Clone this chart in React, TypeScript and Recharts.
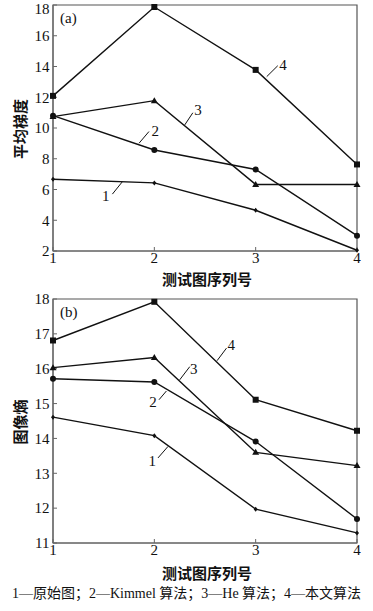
import React from 'react';
import {
  LineChart,
  Line,
  XAxis,
  YAxis,
  ReferenceArea,
  ReferenceLine,
  ReferenceDot,
  Label,
} from 'recharts';

// test image index on the x axis
const testImages = [1, 2, 3, 4];
const methodNames = ['原始图', 'Kimmel 算法', 'He 算法', '本文算法'];

// (a) average gradient
const gradientOriginal = [6.67, 6.43, 4.65, 2.05];
const gradientKimmel = [10.8, 8.57, 7.3, 3.0];
const gradientHe = [10.74, 11.78, 6.33, 6.33];
const gradientOurs = [12.09, 17.87, 13.78, 7.63];
const gradientTicks = [2, 4, 6, 8, 10, 12, 14, 16, 18];

// (b) image entropy
const entropyOriginal = [14.61, 14.08, 11.97, 11.29];
const entropyKimmel = [15.71, 15.62, 13.91, 11.69];
const entropyHe = [16.03, 16.32, 13.6, 13.22];
const entropyOurs = [16.81, 17.92, 15.11, 14.22];
const entropyTicks = [11, 12, 13, 14, 15, 16, 17, 18];

type Pt = { x: number; y: number };
type Callout = { text: string; at: Pt; from: Pt; to: Pt };

// numbered callouts, in data units
const gradientCallouts: Callout[] = [
  { text: '1', at: { x: 1.52, y: 5.57 }, from: { x: 1.586, y: 5.7 }, to: { x: 1.685, y: 6.51 } },
  { text: '2', at: { x: 2.01, y: 9.81 }, from: { x: 1.849, y: 9.01 }, to: { x: 1.947, y: 9.77 } },
  { text: '3', at: { x: 2.43, y: 11.18 }, from: { x: 2.3, y: 10.2 }, to: { x: 2.38, y: 10.99 } },
  { text: '4', at: { x: 3.27, y: 14.12 }, from: { x: 3.109, y: 13.34 }, to: { x: 3.218, y: 14.05 } },
];

const entropyCallouts: Callout[] = [
  { text: '1', at: { x: 1.98, y: 13.37 }, from: { x: 2.036, y: 13.44 }, to: { x: 2.135, y: 13.77 } },
  { text: '2', at: { x: 1.987, y: 15.06 }, from: { x: 2.046, y: 15.11 }, to: { x: 2.119, y: 15.36 } },
  { text: '3', at: { x: 2.39, y: 15.99 }, from: { x: 2.25, y: 15.68 }, to: { x: 2.35, y: 16.06 } },
  { text: '4', at: { x: 2.76, y: 16.68 }, from: { x: 2.619, y: 16.23 }, to: { x: 2.712, y: 16.59 } },
];

const serif = '"Liberation Serif", "Noto Sans CJK SC", serif';
const cjkBold = '"Noto Sans CJK SC", sans-serif';
const ink = '#111';

type MarkerKind = 'dot' | 'circle' | 'triangle' | 'square';
const markers: MarkerKind[] = ['dot', 'circle', 'triangle', 'square'];

const renderMarker = (kind: MarkerKind) => (props: any) => {
  const { cx, cy, index } = props;
  const key = `${kind}-${index}`;
  if (cx == null || cy == null) return <g key={key} />;
  if (kind === 'square')
    return <rect key={key} x={cx - 3} y={cy - 3} width={6} height={6} fill={ink} />;
  if (kind === 'circle') return <circle key={key} cx={cx} cy={cy} r={3} fill={ink} />;
  if (kind === 'triangle')
    return (
      <polygon
        key={key}
        points={`${cx},${cy - 3.5} ${cx + 3.5},${cy + 2.5} ${cx - 3.5},${cy + 2.5}`}
        fill={ink}
      />
    );
  return (
    <polygon
      key={key}
      points={`${cx},${cy - 2.5} ${cx + 2},${cy} ${cx},${cy + 2.5} ${cx - 2},${cy}`}
      fill={ink}
    />
  );
};

const YTitle = (props: any) => {
  const { viewBox, value } = props;
  const cx = viewBox.x + 19;
  const cy = viewBox.y + viewBox.height / 2 + 1;
  return (
    <text
      x={cx}
      y={cy}
      transform={`rotate(-90 ${cx} ${cy})`}
      textAnchor="middle"
      dominantBaseline="central"
      fontFamily={cjkBold}
      fontWeight={700}
      fontSize={15}
      fill={ink}
    >
      {value}
    </text>
  );
};

const makeXTitle = (dy: number) => (props: any) => {
  const { viewBox, value } = props;
  return (
    <text
      x={viewBox.x + viewBox.width / 2 + 2}
      y={viewBox.y + dy}
      textAnchor="middle"
      dominantBaseline="central"
      fontFamily={cjkBold}
      fontWeight={700}
      fontSize={15}
      fill={ink}
    >
      {value}
    </text>
  );
};

interface PanelProps {
  tag: string;
  yTitle: string;
  series: number[][];
  ticks: number[];
  callouts: Callout[];
  height: number;
  top: number;
  titleDy: number;
}

const Panel: React.FC<PanelProps> = ({ tag, yTitle, series, ticks, callouts, height, top, titleDy }) => {
  const rows = testImages.map((x, i) => ({
    x,
    s1: series[0][i],
    s2: series[1][i],
    s3: series[2][i],
    s4: series[3][i],
  }));
  const yMin = ticks[0];
  const yMax = ticks[ticks.length - 1];

  return (
    <LineChart width={373} height={height} data={rows} margin={{ top, right: 16, bottom: 0, left: 0 }}>
      <XAxis
        type="number"
        dataKey="x"
        domain={[1, 4]}
        ticks={testImages}
        height={40}
        tickSize={-4}
        tickMargin={5}
        stroke="#666"
        tick={{ fill: ink, fontSize: 15, fontFamily: serif }}
      >
        <Label value="测试图序列号" content={makeXTitle(titleDy)} />
      </XAxis>
      <YAxis
        type="number"
        domain={[yMin, yMax]}
        ticks={ticks}
        width={53}
        tickSize={-4}
        tickMargin={7.5}
        stroke="#666"
        tick={{ fill: ink, fontSize: 15, fontFamily: serif }}
      >
        <Label value={yTitle} content={YTitle} />
      </YAxis>
      <ReferenceArea
        x1={1}
        x2={4}
        y1={yMin}
        y2={yMax}
        fill="none"
        stroke="#555"
        strokeWidth={1.2}
        ifOverflow="visible"
      >
        <Label
          value={tag}
          position="insideTopLeft"
          offset={7}
          fill={ink}
          fontSize={15}
          fontFamily={serif}
        />
      </ReferenceArea>
      {['s1', 's2', 's3', 's4'].map((key, i) => (
        <Line
          key={key}
          dataKey={key}
          stroke={ink}
          strokeWidth={1.4}
          dot={renderMarker(markers[i])}
          activeDot={false}
          isAnimationActive={false}
        />
      ))}
      {callouts.map(c => (
        <ReferenceLine key={`l${c.text}`} segment={[c.from, c.to]} stroke={ink} strokeWidth={1} />
      ))}
      {callouts.map(c => (
        <ReferenceDot
          key={`t${c.text}`}
          x={c.at.x}
          y={c.at.y}
          r={0}
          fill="none"
          stroke="none"
          label={{ value: c.text, position: 'center', fill: ink, fontSize: 15, fontFamily: serif }}
        />
      ))}
    </LineChart>
  );
};

const legendText = methodNames.map((name, i) => `${i + 1}—${name}`).join('；');

export default function App() {
  return (
    <div
      style={{
        position: 'absolute',
        left: 0,
        top: 0,
        width: 373,
        height: 611,
        background: '#fff',
      }}
    >
      <div style={{ position: 'absolute', left: 0, top: 0 }}>
        <Panel
          tag="(a)"
          yTitle="平均梯度"
          series={[gradientOriginal, gradientKimmel, gradientHe, gradientOurs]}
          ticks={gradientTicks}
          callouts={gradientCallouts}
          height={291}
          top={5}
          titleDy={27}
        />
      </div>
      <div style={{ position: 'absolute', left: 0, top: 290 }}>
        <Panel
          tag="(b)"
          yTitle="图像熵"
          series={[entropyOriginal, entropyKimmel, entropyHe, entropyOurs]}
          ticks={entropyTicks}
          callouts={entropyCallouts}
          height={293}
          top={9}
          titleDy={29}
        />
      </div>
      <div
        style={{
          position: 'absolute',
          left: 0,
          top: 586,
          width: 373,
          textAlign: 'center',
          fontFamily: serif,
          fontSize: 14,
          lineHeight: '16px',
          color: ink,
          whiteSpace: 'nowrap',
        }}
      >
        {legendText}
      </div>
    </div>
  );
}
